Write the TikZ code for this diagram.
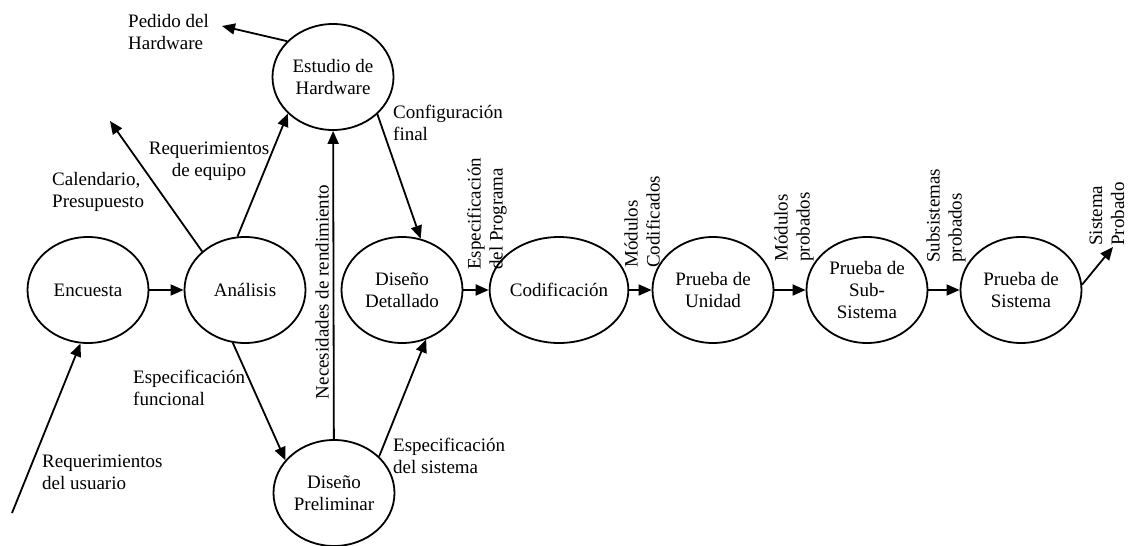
\documentclass[tikz,border=0pt]{standalone}
\usepackage{fontspec}
\setmainfont{Liberation Serif}
\usetikzlibrary{shapes.geometric,arrows.meta}

\begin{document}
\begin{tikzpicture}[x=1pt,y=-1pt]
\tikzset{etapa/.style={ellipse,draw,line width=1.8pt,minimum width=121pt,minimum height=106pt,inner sep=0pt,align=center},
flujo/.style={line width=1.8pt,-{Triangle[length=13pt,width=11pt]}},
txt/.style={inner sep=0pt,align=left,anchor=west},
vtxt/.style={inner sep=0pt,align=left,anchor=west,rotate=90}}
\useasboundingbox (0,0) rectangle (1133,546);
\fontsize{19}{22}\selectfont

\node[etapa] (enc) at (88,290) {Encuesta};
\node[etapa] (ana) at (245,290) {Análisis};
\node[etapa] (est) at (333,77) {Estudio de\\Hardware};
\node[etapa] (pre) at (334,493) {Diseño\\Preliminar};
\node[etapa] (det) at (402,290) {Diseño\\Detallado};
\node[etapa] (cod) at (559,290) {Codificación};
\node[etapa] (uni) at (713,290) {Prueba de\\Unidad};
\node[etapa] (sub) at (867,290) {Prueba de\\Sub-\\Sistema};
\node[etapa] (sis) at (1021,290) {Prueba de\\Sistema};

\coordinate (usr) at (12,513);
\coordinate (cal) at (110,121);
\coordinate (ped) at (222,26);
\coordinate (fin) at (1113,247);

\draw[flujo] (usr) -- (enc.-98);
\draw[flujo] (enc) -- (ana);
\draw[flujo] (ana.138) -- (cal);
\draw[flujo] (ana.98) -- (est.-141);
\draw[flujo] (est.142) -- (ped);
\draw[flujo] (pre) -- (est);
\draw[flujo] (est.-40) -- (det.70);
\draw[flujo] (ana.-103) -- (pre.146);
\draw[flujo] (pre.39) -- (det.-64);
\draw[flujo] (det) -- (cod);
\draw[flujo] (cod) -- (uni);
\draw[flujo] (uni) -- (sub);
\draw[flujo] (sub) -- (sis);
\draw[flujo] (sis.5) -- (fin);

\node[txt] (l1) at (128,32) {Pedido del\\Hardware};
\node[txt] (l2) at (52,192) {Calendario,\\Presupuesto};
\node[txt,align=center,anchor=center] (l3) at (209,161) {Requerimientos\\de equipo};
\node[txt] (l4) at (393,123) {Configuración\\final};
\node[txt] (l5) at (133,388) {Especificación\\funcional};
\node[txt] (l6) at (42,472) {Requerimientos\\del usuario};
\node[txt] (l7) at (393,456) {Especificación\\del sistema};
\node[vtxt,anchor=center] (l8) at (322,292) {Necesidades de rendimiento};
\node[vtxt] (l9) at (487,270) {Especificación\\del Programa};
\node[vtxt] (l10) at (642,268) {Módulos\\Codificados};
\node[vtxt] (l11) at (794,262) {Módulos\\probados};
\node[vtxt] (l12) at (946,263) {Subsistemas\\probados};
\node[vtxt] (l13) at (1107,246) {Sistema\\Probado};
\end{tikzpicture}
\end{document}
